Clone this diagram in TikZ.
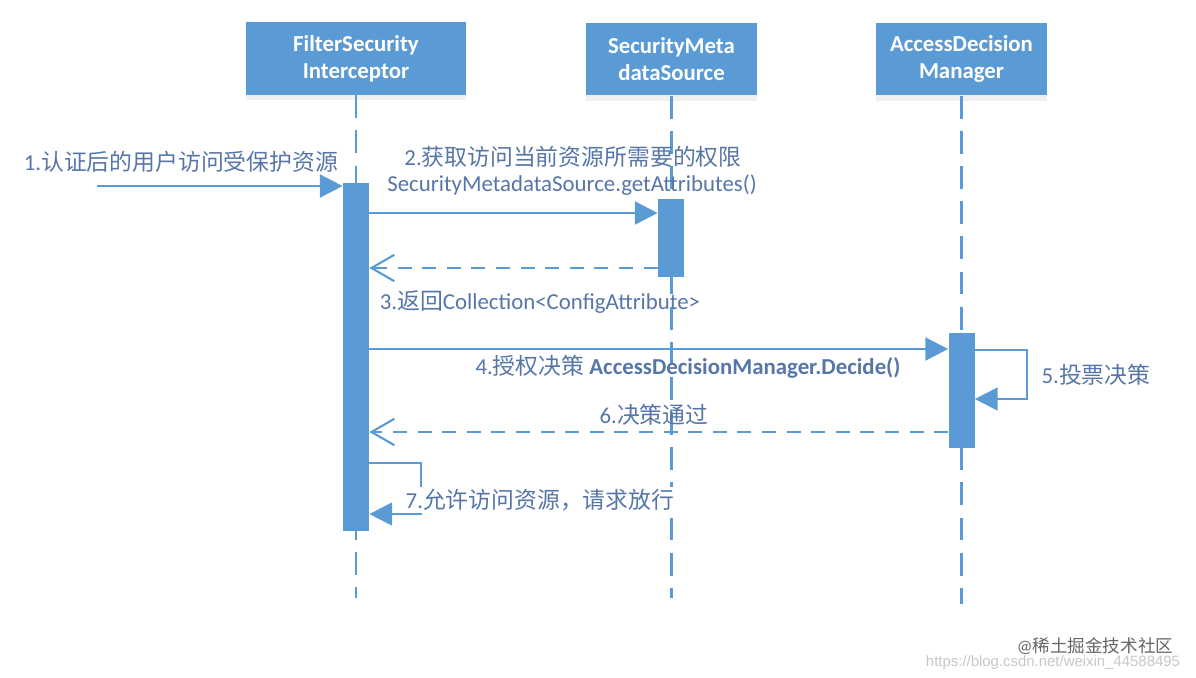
\documentclass[tikz,border=0pt]{standalone}
\usepackage{fontspec}
\setmainfont{Carlito}
\newfontfamily\cjk{Noto Sans CJK SC}
\newfontfamily\urlfont{Liberation Sans}
\usetikzlibrary{arrows.meta,calc,shadows}
\definecolor{seqblue}{RGB}{91,155,213}
\definecolor{lbltext}{RGB}{86,118,168}

\begin{document}
\begin{tikzpicture}[x=0.02cm,y=-0.02cm,
		actor/.style={fill=seqblue,text=white,minimum height=1.46cm,align=center,
			font=\bfseries\fontsize{13}{15.5}\selectfont,
			drop shadow={opacity=0.12,shadow xshift=0pt,shadow yshift=-3pt}},
		bar/.style={fill=seqblue,minimum width=0.52cm,inner sep=0pt},
		lifeline/.style={seqblue,line width=1.5pt,dash pattern=on 13pt off 7pt},
		msg/.style={seqblue,line width=1.6pt,-{Triangle[length=13pt,width=13pt]}},
		selfmsg/.style={seqblue,line width=1.2pt,-{Triangle[length=13pt,width=13pt]}},
		ret/.style={seqblue,line width=1.6pt,dash pattern=on 8pt off 6pt,
			-{Straight Barb[length=13pt,width=15pt,line width=1.2pt]}},
		lbl/.style={text=lbltext,inner sep=1pt,font=\fontsize{13}{15.5}\selectfont}]
		\useasboundingbox (0,0) rectangle (1196,677);
		% draw participants
		\node[actor,minimum width=4.4cm] (fsi) at (356,58.5) {FilterSecurity\\Interceptor};
		\node[actor,minimum width=3.42cm] (sms) at (671.5,59) {SecurityMeta\\dataSource};
		\node[actor,minimum width=3.42cm] (adm) at (961.5,59) {AccessDecision\\Manager};
		% draw lifelines
		\coordinate (end1) at (356,598);
		\coordinate (end2) at (671.5,598);
		\coordinate (end3) at (961.5,604);
		\draw[lifeline] (fsi.south) -- (end1);
		\draw[lifeline] (sms.south) -- (end2);
		\draw[lifeline] (adm.south) -- (end3);
		% draw activation bars
		\node[bar,minimum height=6.96cm] (bar1) at (356,357) {};
		\node[bar,minimum height=1.56cm] (bar2) at (671,238) {};
		\node[bar,minimum height=2.3cm] (bar3) at (961.5,390.5) {};
		% message rows
		\coordinate (src) at (97,186);
		\coordinate (m2) at (0,213);
		\coordinate (m3) at (0,268);
		\coordinate (m4) at (0,349);
		\coordinate (m5a) at (1027,350);
		\coordinate (m5b) at (1027,399);
		\coordinate (m6) at (0,432);
		\coordinate (m7a) at (421,463);
		\coordinate (m7b) at (421,514);
		% draw messages
		\draw[msg] (src) -- (src -| bar1.west);
		\draw[msg] (bar1.east |- m2) -- (bar2.west |- m2);
		\draw[ret] (bar2.west |- m3) -- (bar1.east |- m3);
		\draw[msg] (bar1.east |- m4) -- (bar3.west |- m4);
		\draw[selfmsg] (bar3.east |- m5a) -- (m5a) -- (m5b) -- (bar3.east |- m5b);
		\draw[ret] (bar3.west |- m6) -- (bar1.east |- m6);
		\draw[selfmsg] (bar1.east |- m7a) -- (m7a) -- (m7b) -- (bar1.east |- m7b);
		% draw labels
		\node[lbl] (l1) at (181,162) {1.{\cjk 认证后的用户访问受保护资源}};
		\node[lbl] (l2) at (573,157) {2.{\cjk 获取访问当前资源所需要的权限}};
		\node[lbl] (l2b) at (572,185) {SecurityMetadataSource.getAttributes()};
		\node[lbl] (l3) at (540,302) {3.{\cjk 返回}Collection<ConfigAttribute>};
		\node[lbl] (l4) at (688,367) {4.{\cjk 授权决策} \textbf{AccessDecisionManager.Decide()}};
		\node[lbl] (l5) at (1096,375) {5.{\cjk 投票决策}};
		\node[lbl] (l6) at (654,415) {6.{\cjk 决策通过}};
		\node[lbl,fill=white] (l7) at (540,500) {7.{\cjk 允许访问资源，请求放行}};
		% watermarks
		\node[text=black!22,inner sep=0pt,font=\urlfont\fontsize{8.5}{10}\selectfont] (wm2) at (1053,663) {https://blog.csdn.net/weixin\_44588495};
		\node[text=black!60,inner sep=0pt,font=\fontsize{10}{12}\selectfont] (wm1) at (1095,646) {@{\cjk 稀土掘金技术社区}};
\end{tikzpicture}
\end{document}
